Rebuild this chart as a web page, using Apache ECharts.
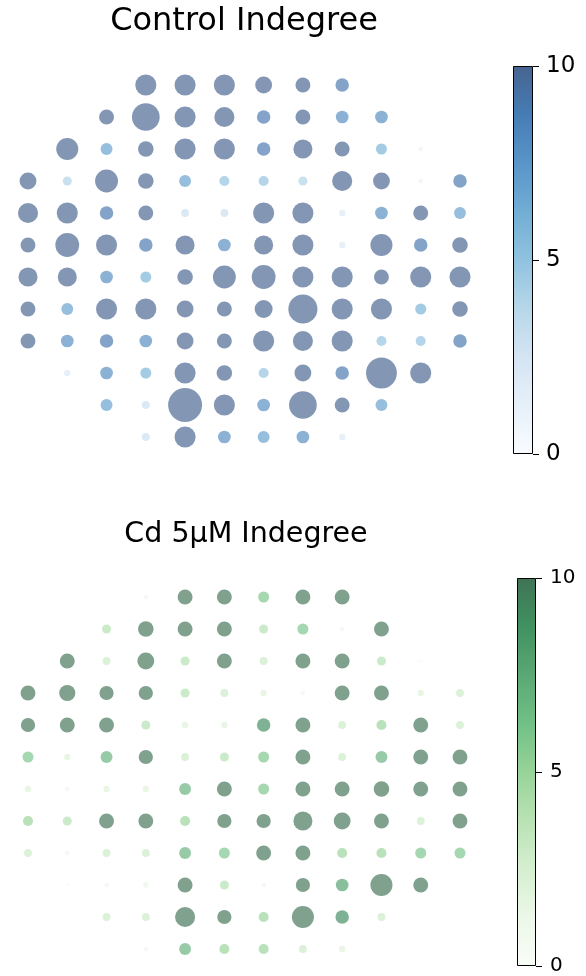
<!DOCTYPE html>
<html><head><meta charset="utf-8">
<script src="https://cdn.jsdelivr.net/npm/echarts@6/dist/echarts.min.js"></script>
<style>html,body{margin:0;padding:0;background:#fff}#c{width:586px;height:976px}</style>
</head><body><div id="c"></div>
<script>
// electrode layout: first column of each of the 12 rows
const rowStartCol = [4,3,2,1,1,1,1,1,1,2,3,4];
const colIndex = [1,2,3,4,5,6,7,8,9,10,11,12];
const rowIndex = [1,2,3,4,5,6,7,8,9,10,11,12];
// Control indegree per row
const controlRow1  = [22,22,22,14,11,9];
const controlRow2  = [11,38,22,20,9,11,8,8];
const controlRow3  = [24,7,12,22,22,9,18,11,6,1];
const controlRow4  = [14,4,26,12,7,5,5,4,20,14,1,9];
const controlRow5  = [20,22,9,11,3,3,22,22,2,8,11,7];
const controlRow6  = [11,28,22,9,18,8,18,22,2,24,9,12];
const controlRow7  = [18,18,8,6,12,26,28,22,22,11,22,22];
const controlRow8  = [11,7,22,22,14,11,16,42,22,22,6,12];
const controlRow9  = [11,8,9,8,14,11,22,20,22,5,5,9];
const controlRow10 = [2,8,6,22,12,5,14,9,47,22];
const controlRow11 = [7,3,57,22,8,38,11,7];
const controlRow12 = [3,22,8,7,8,2];
// Cd 5uM indegree per row
const cdRow1  = [1,11,11,6,11,11];
const cdRow2  = [4,12,11,11,4,6,1,11];
const cdRow3  = [11,3,14,4,11,3,11,11,4,0.5];
const cdRow4  = [11,13,10,10,4,3,2,1,11,11,2,3];
const cdRow5  = [10,11,11,4,2,2,9,11,3,5,11,3];
const cdRow6  = [6,2,7,10,3,4,6,11,3,7,11,11];
const cdRow7  = [2,1,2,2,7,11,6,11,11,12,11,11];
const cdRow8  = [5,4,11,11,5,10,10,18,14,11,3,11];
const cdRow9  = [3,1,3,3,7,6,11,11,5,5,6,6];
const cdRow10 = [0.5,1,1.5,11,4,1,10,8,24,11];
const cdRow11 = [3,3,20,10,5,24,9,3];
const cdRow12 = [1,7,5,5,3,2];
const colorbarTicks = [0,5,10];
const titles = ['Control Indegree', 'Cd 5\u00b5M Indegree'];

const blues  = ['#f7fbff','#deebf7','#c6dbef','#9ecae1','#6baed6','#4292c6','#2171b5','#08519c','#08306b'];
const greens = ['#f7fcf5','#e5f5e0','#c7e9c0','#a1d99b','#74c476','#41ab5d','#238b45','#006d2c','#00441b'];

const controlRows = [controlRow1,controlRow2,controlRow3,controlRow4,controlRow5,controlRow6,controlRow7,controlRow8,controlRow9,controlRow10,controlRow11,controlRow12];
const cdRows = [cdRow1,cdRow2,cdRow3,cdRow4,cdRow5,cdRow6,cdRow7,cdRow8,cdRow9,cdRow10,cdRow11,cdRow12];

function toPoints(rows){
  const pts=[];
  rows.forEach((row,i)=>row.forEach((v,j)=>pts.push([colIndex[rowStartCol[i]-1+j], rowIndex[i], v])));
  return pts;
}
function rgba(hex,a){
  const n=parseInt(hex.slice(1),16);
  return 'rgba('+((n>>16)&255)+','+((n>>8)&255)+','+(n&255)+','+a+')';
}
function gradient(cmap){
  const stops=cmap.slice().reverse().map((c,i)=>({offset:i/(cmap.length-1),color:rgba(c,0.75)}));
  return new echarts.graphic.LinearGradient(0,0,0,1,stops);
}
const FONT='DejaVu Sans';
const chart=echarts.init(document.getElementById('c'),null,{renderer:'canvas'});
const grids=[
  {left:28,top:85,width:432,height:352},
  {left:28,top:597,width:432,height:352},
  {left:513,top:66,width:20,height:388},
  {left:517,top:578,width:19,height:390}
];
function scatterAxes(i){
  return {
    x:{gridIndex:i,type:'value',min:1,max:12,show:false},
    y:{gridIndex:i,type:'value',min:1,max:12,inverse:true,show:false}
  };
}
function cbAxes(i,fs,margin){
  return {
    x:{gridIndex:i,type:'category',data:['cb'],show:false},
    y:{gridIndex:i,type:'value',min:0,max:10,interval:5,position:'right',
       axisLine:{show:false},splitLine:{show:false},
       axisTick:{show:true,length:6,lineStyle:{color:'#000',width:1}},
       axisLabel:{show:true,color:'#000',fontFamily:FONT,fontSize:fs,margin:margin,
         formatter:v=>colorbarTicks.includes(v)?String(v):''}}
  };
}
const a0=scatterAxes(0),a1=scatterAxes(1),a2=cbAxes(2,23,13),a3=cbAxes(3,20,14);
const sizeFn=v=>4.5*Math.sqrt(v[2]);
chart.setOption({
  animation:false,
  backgroundColor:'#fff',
  grid:grids,
  xAxis:[a0.x,a1.x,a2.x,a3.x],
  yAxis:[a0.y,a1.y,a2.y,a3.y],
  visualMap:[
    {show:false,type:'continuous',seriesIndex:0,dimension:2,min:0,max:10,inRange:{color:blues}},
    {show:false,type:'continuous',seriesIndex:1,dimension:2,min:0,max:10,inRange:{color:greens}}
  ],
  graphic:[
    {type:'text',style:{text:titles[0],x:244,y:22,align:'center',verticalAlign:'middle',font:'32px "DejaVu Sans"',fill:'#000'}},
    {type:'text',style:{text:titles[1],x:246,y:535,align:'center',verticalAlign:'middle',font:'28.5px "DejaVu Sans"',fill:'#000'}}
  ],
  series:[
    {type:'scatter',xAxisIndex:0,yAxisIndex:0,data:toPoints(controlRows),symbolSize:sizeFn,clip:false,itemStyle:{opacity:0.5},silent:true},
    {type:'scatter',xAxisIndex:1,yAxisIndex:1,data:toPoints(cdRows),symbolSize:sizeFn,clip:false,itemStyle:{opacity:0.5},silent:true},
    {type:'bar',xAxisIndex:2,yAxisIndex:2,data:[10],barWidth:'100%',itemStyle:{color:gradient(blues),borderColor:'#000',borderWidth:1},silent:true},
    {type:'bar',xAxisIndex:3,yAxisIndex:3,data:[10],barWidth:'100%',itemStyle:{color:gradient(greens),borderColor:'#000',borderWidth:1},silent:true}
  ]
});
</script></body></html>
